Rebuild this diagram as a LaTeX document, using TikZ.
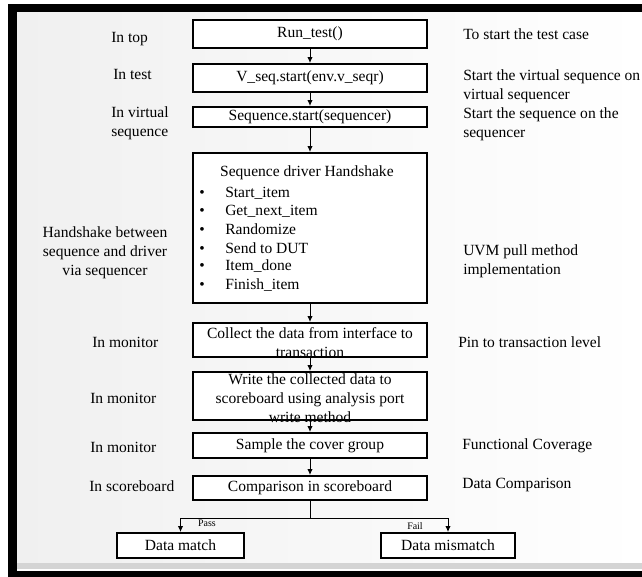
\documentclass[tikz,border=0pt]{standalone}
\usepackage{fontspec}
\setmainfont{Liberation Serif}
\usetikzlibrary{arrows.meta,positioning}
\definecolor{panelgray}{RGB}{240,240,240}
\definecolor{stripgray}{RGB}{212,212,212}

\begin{document}
\begin{tikzpicture}[
    stage/.style={rectangle, draw=black, line width=1.4pt, fill=white, minimum width=6.19cm, inner sep=0pt, align=center, font=\fontsize{11.7}{14.3}\selectfont},
    outcome/.style={stage, minimum height=0.661cm},
    note/.style={font=\fontsize{11.7}{14.3}\selectfont, align=left, inner sep=0pt},
    bullet/.style={note, anchor=west},
    flow/.style={-{Latex[length=4.5pt,width=4pt]}, line width=0.75pt},
    verdict/.style={font=\fontsize{7.5}{9}\selectfont, inner sep=0pt}
]
\useasboundingbox (0,0) rectangle (16.986,15.266);

% Frame and panel
\fill[white] (0,0) rectangle (16.986,15.266);
\fill[left color=panelgray, right color=white] (0.45,0.37) rectangle (16.986,14.95);
\fill[stripgray] (0.45,0.21) rectangle (16.986,0.37);
\fill[black] (0.212,14.95) rectangle (16.986,15.16);
\fill[black] (0.212,0) rectangle (0.45,15.16);
\fill[black] (0.212,0) rectangle (16.986,0.159);

% Main flow
\node[stage, minimum height=0.741cm] (run) at (8.202,14.367) {Run\_test()};
\node[stage, minimum height=0.741cm] (vseq) at (8.202,13.203) {V\_seq.start(env.v\_seqr)};
\node[stage, minimum height=0.529cm] (seq) at (8.202,12.171) {Sequence.start(sequencer)};

% Handshake box
\node[stage, minimum height=3.969cm] (hand) at (8.202,9.234) {};
\node[note] (handhead) at (8.12,10.689) {Sequence driver Handshake};
\node[bullet] (startitem) at (5.265,10.160) {\makebox[0.688cm][l]{\textbullet}Start\_item};
\node[bullet] (getnext) at (5.265,9.684) {\makebox[0.688cm][l]{\textbullet}Get\_next\_item};
\node[bullet] (randomize) at (5.265,9.207) {\makebox[0.688cm][l]{\textbullet}Randomize};
\node[bullet] (senddut) at (5.265,8.705) {\makebox[0.688cm][l]{\textbullet}Send to DUT};
\node[bullet] (itemdone) at (5.265,8.228) {\makebox[0.688cm][l]{\textbullet}Item\_done};
\node[bullet] (finish) at (5.265,7.726) {\makebox[0.688cm][l]{\textbullet}Finish\_item};

% Monitor boxes
\node[stage, minimum height=0.9cm] (collect) at (8.202,6.271) {};
\node[note, align=center] (collecttext) at (8.202,6.205) {Collect the data from interface to\\transaction};
\node[stage, minimum height=1.27cm] (write) at (8.202,4.789) {};
\node[note, align=center] (writetext) at (8.202,4.736) {Write the collected data to\\scoreboard using analysis port\\write method};
\node[stage, minimum height=0.661cm] (sample) at (8.202,3.479) {Sample the cover group};
\node[stage, minimum height=0.635cm] (cmp) at (8.202,2.355) {Comparison in scoreboard};

% Results
\coordinate (split) at (8.202,1.535);
\node[outcome, minimum width=3.36cm] (match) at (4.776,0.833) {Data match};
\node[outcome, minimum width=3.545cm] (mismatch) at (11.853,0.833) {Data mismatch};
\node[verdict] (pass) at (5.477,1.429) {Pass};
\node[verdict] (fail) at (10.98,1.35) {Fail};

% Connectors
\draw[flow] (run) -- (vseq);
\draw[flow] (vseq) -- (seq);
\draw[flow] (seq) -- (hand);
\draw[flow] (hand) -- (collect);
\draw[flow] (collect) -- (write);
\draw[flow] (write) -- (sample);
\draw[flow] (sample) -- (cmp);
\draw[line width=0.75pt] (cmp) -- (split);
\draw[flow] (split) -| (match);
\draw[flow] (split) -| (mismatch);

% Left side notes
\node[note, anchor=west] (intop) at (2.937,14.234) {In top};
\node[note, anchor=west] (intest) at (2.990,13.282) {In test};
\node[note, anchor=west] (invirtual) at (2.937,12.012) {In virtual\\sequence};
\node[note, align=center] (handnote) at (2.778,8.572) {Handshake between\\sequence and driver\\via sequencer};
\node[note, anchor=west] (inmon1) at (2.434,6.218) {In monitor};
\node[note, anchor=west] (inmon2) at (2.381,4.736) {In monitor};
\node[note, anchor=west] (inmon3) at (2.381,3.440) {In monitor};
\node[note, anchor=west] (insb) at (2.355,2.408) {In scoreboard};

% Right side notes
\node[note, anchor=west] (starttest) at (12.25,14.367) {To start the test case};
\node[note, anchor=west] (startvseq) at (12.25,12.991) {Start the virtual sequence on\\virtual sequencer};
\node[note, anchor=west] (startseq) at (12.25,11.985) {Start the sequence on the\\sequencer};
\node[note, anchor=west] (uvmpull) at (12.25,8.361) {UVM pull method\\implementation};
\node[note, anchor=west] (pinlevel) at (12.118,6.218) {Pin to transaction level};
\node[note, anchor=west] (funccov) at (12.224,3.466) {Functional Coverage};
\node[note, anchor=west] (datacmp) at (12.224,2.434) {Data Comparison};

\end{tikzpicture}
\end{document}
